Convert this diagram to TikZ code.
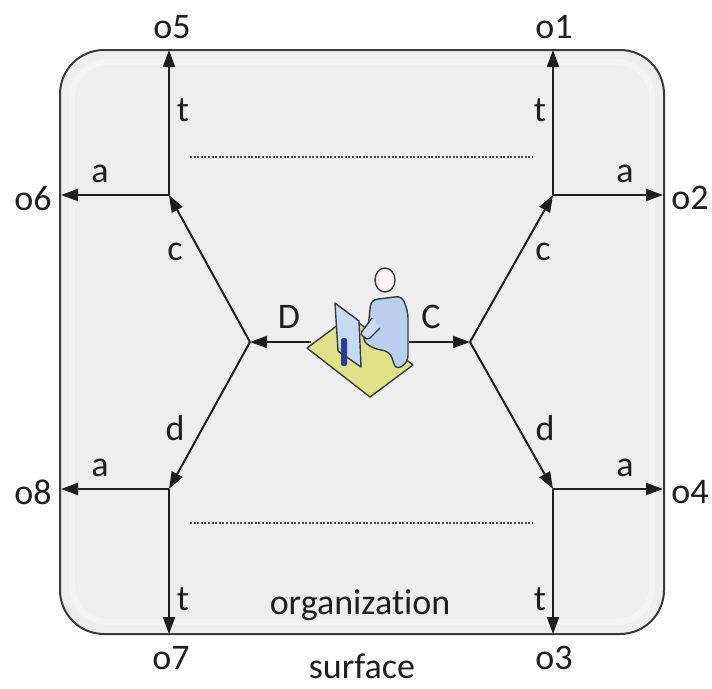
\documentclass[tikz,border=0pt]{standalone}
\usepackage{fontspec}
\setmainfont{Carlito}[RawFeature={-liga}]
\usetikzlibrary{arrows.meta}
\definecolor{ink}{HTML}{1E1E1E}
\definecolor{rim}{HTML}{3A3A3A}
\definecolor{panel}{HTML}{EEEEEE}
\definecolor{padfill}{HTML}{DEE289}
\definecolor{screenfill}{HTML}{C7DAF3}
\definecolor{bodyfill}{HTML}{BACFEE}
\definecolor{standblue}{HTML}{2D3C9C}
\definecolor{headfill}{HTML}{FDF3F5}
\begin{document}
\begin{tikzpicture}[x=1pt,y=-1pt,
  lbl/.style={font=\fontsize{36}{42}\selectfont, text=ink, inner sep=0pt},
  flow/.style={line width=2pt, draw=ink, -{Triangle[length=17pt,width=12pt]}},
  guide/.style={line width=2pt, draw=gray!60!black, dash pattern=on 2pt off 1.6pt},
  iconline/.style={draw=rim, line width=1.4pt, line join=round}]
\useasboundingbox (0,0) rectangle (712,688);
\fill[white] (0,0) rectangle (712,688);

% organization surface
\draw[rim, fill=panel, line width=2pt, rounded corners=44pt] (60,50) rectangle (664,634);
\draw[white, line width=6pt, opacity=0.35, rounded corners=36pt] (72,62) rectangle (652,622);

% junction points, hubs and ends on the surface border
\coordinate (jUL) at (169,195);
\coordinate (jUR) at (553,195);
\coordinate (jLL) at (169,489);
\coordinate (jLR) at (553,489);
\coordinate (hubL) at (250,342);
\coordinate (hubR) at (470,342);
\coordinate (eT5) at (169,50);
\coordinate (eT1) at (553,50);
\coordinate (eB7) at (169,634);
\coordinate (eB3) at (553,634);
\coordinate (eL6) at (61,195);
\coordinate (eR2) at (663,195);
\coordinate (eL8) at (61,489);
\coordinate (eR4) at (663,489);
\coordinate (icL) at (311,342);
\coordinate (icR) at (409,342);

% dotted guides
\coordinate (g1a) at (190,157); \coordinate (g1b) at (533,157);
\coordinate (g2a) at (190,523); \coordinate (g2b) at (533,523);
\draw[guide] (g1a) -- (g1b);
\draw[guide] (g2a) -- (g2b);

% central actor: person at a workstation
\draw[iconline, fill=padfill] (307,348) -- (350,316) -- (413,365) -- (370,397) -- cycle;
\draw[iconline, fill=screenfill] (335,303) -- (359,321) -- (361,367) -- (338,351) -- cycle;
\fill[standblue, rounded corners=2pt] (341,338) rectangle (347,366);
\draw[iconline, fill=bodyfill, rounded corners=6pt]
  (371,300) -- (402,296) -- (408,312) -- (408,362) -- (396,370) -- (390,352)
  -- (372,348) -- (362,340) -- (368,328) -- cycle;
\draw[iconline, fill=bodyfill!80!white, rounded corners=3pt]
  (372,318) -- (360,334) -- (368,340) -- (380,328);
\draw[iconline, fill=headfill] (385,280) ellipse [x radius=10pt, y radius=12pt];

% flows from the actor
\draw[flow] (icL) -- (hubL);
\draw[flow] (icR) -- (hubR);
\draw[flow] (hubL) -- (jUL);
\draw[flow] (hubL) -- (jLL);
\draw[flow] (hubR) -- (jUR);
\draw[flow] (hubR) -- (jLR);

% flows to the surface
\draw[flow] (jUL) -- (eT5);
\draw[flow] (jUL) -- (eL6);
\draw[flow] (jUR) -- (eT1);
\draw[flow] (jUR) -- (eR2);
\draw[flow] (jLL) -- (eB7);
\draw[flow] (jLL) -- (eL8);
\draw[flow] (jLR) -- (eB3);
\draw[flow] (jLR) -- (eR4);

% outlet labels
\node[lbl] (o5) at (172,27) {o5};
\node[lbl] (o1) at (554,27) {o1};
\node[lbl] (o6) at (33,198) {o6};
\node[lbl] (o2) at (690,198) {o2};
\node[lbl] (o8) at (33,492) {o8};
\node[lbl] (o4) at (690,492) {o4};
\node[lbl] (o7) at (171,658) {o7};
\node[lbl] (o3) at (554,658) {o3};

% flow labels
\node[lbl] (tUL) at (183,110) {t};
\node[lbl] (tUR) at (540,110) {t};
\node[lbl] (tLL) at (183,599) {t};
\node[lbl] (tLR) at (540,599) {t};
\node[lbl] (aUL) at (100,174) {a};
\node[lbl] (aUR) at (625,174) {a};
\node[lbl] (aLL) at (100,468) {a};
\node[lbl] (aLR) at (625,468) {a};
\node[lbl] (cL) at (175,252) {c};
\node[lbl] (cR) at (543,252) {c};
\node[lbl] (dL) at (175,428) {d};
\node[lbl] (dR) at (545,428) {d};
\node[lbl] (DD) at (289,317) {D};
\node[lbl] (CC) at (431,317) {C};

% surface caption
\node[lbl] (org) at (360,605) {organization};
\node[lbl] (surf) at (362,666) {surface};
\end{tikzpicture}
\end{document}
